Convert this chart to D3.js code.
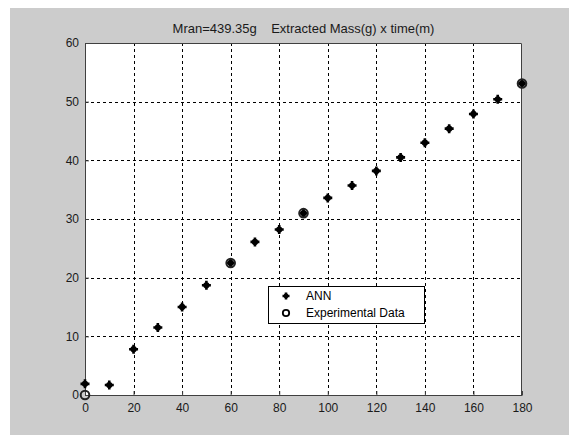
<!DOCTYPE html>
<html>
<head>
<meta charset="utf-8">
<script src="https://cdn.jsdelivr.net/npm/d3@7"></script>
<style>
  body { margin: 0; background: #fff; }
  text { font-family: "Liberation Sans", Arial, sans-serif; }
</style>
</head>
<body>
<svg id="chart" width="569" height="435"></svg>
<script>
// Extracted mass vs time: ANN prediction and experimental points
const annTime = [0, 10, 20, 30, 40, 50, 60, 70, 80, 90, 100, 110, 120, 130, 140, 150, 160, 170, 180];
const annMass = [1.9, 1.7, 7.8, 11.5, 15.0, 18.7, 22.5, 26.1, 28.2, 31.0, 33.6, 35.7, 38.2, 40.5, 43.0, 45.4, 47.9, 50.4, 53.1];
const expTime = [0, 60, 90, 180];
const expMass = [0, 22.5, 31.0, 53.1];
const xTicks = [0, 20, 40, 60, 80, 100, 120, 140, 160, 180];
const yTicks = [0, 10, 20, 30, 40, 50, 60];
const titleText = 'Mran=439.35g    Extracted Mass(g) x time(m)';
const legendLabels = ['ANN', 'Experimental Data'];

const svg = d3.select('#chart');
const box = { left: 85, right: 522, top: 43, bottom: 395 };

// figure background (MATLAB grey)
svg.append('rect')
  .attr('x', 10).attr('y', 8)
  .attr('width', 559).attr('height', 427)
  .attr('fill', '#cccccc');

const x = d3.scaleLinear().domain([0, 180]).range([box.left, box.right]);
const y = d3.scaleLinear().domain([0, 60]).range([box.bottom, box.top]);

// axes area
svg.append('rect')
  .attr('x', box.left).attr('y', box.top)
  .attr('width', box.right - box.left).attr('height', box.bottom - box.top)
  .attr('fill', '#fff');

// dashed grid
const grid = svg.append('g')
  .attr('stroke', '#000')
  .attr('stroke-width', 1)
  .attr('stroke-dasharray', '3 3')
  .attr('shape-rendering', 'crispEdges');
grid.selectAll('line.v')
  .data(xTicks.slice(1, -1))
  .join('line')
  .attr('class', 'v')
  .attr('x1', d => Math.round(x(d)) + 0.5).attr('x2', d => Math.round(x(d)) + 0.5)
  .attr('y1', box.top).attr('y2', box.bottom);
grid.selectAll('line.h')
  .data(yTicks.slice(1, -1))
  .join('line')
  .attr('class', 'h')
  .attr('x1', box.left).attr('x2', box.right)
  .attr('y1', d => Math.round(y(d)) + 0.5).attr('y2', d => Math.round(y(d)) + 0.5);

// axes with ticks pointing inward
const xAxis = svg.append('g')
  .attr('transform', `translate(0,${box.bottom})`)
  .call(d3.axisBottom(x).tickValues(xTicks).tickSizeInner(-4).tickSizeOuter(0).tickPadding(8));
const yAxis = svg.append('g')
  .attr('transform', `translate(${box.left},0)`)
  .call(d3.axisLeft(y).tickValues(yTicks).tickSizeInner(-4).tickSizeOuter(0).tickPadding(6));
[xAxis, yAxis].forEach(g => {
  g.select('.domain').attr('stroke', '#404040');
  g.selectAll('.tick line').attr('stroke', '#404040');
  g.selectAll('.tick text')
    .attr('fill', '#1a1a1a')
    .style('font-size', '12px')
    .style('font-family', '"Liberation Sans", Arial, sans-serif');
});

// box top / right
svg.append('path')
  .attr('d', `M${box.left},${box.top + 0.5}H${box.right - 0.5}V${box.bottom}`)
  .attr('fill', 'none')
  .attr('stroke', '#404040')
  .attr('stroke-width', 1);

// title
svg.append('text')
  .attr('x', (box.left + box.right) / 2)
  .attr('y', 33)
  .attr('text-anchor', 'middle')
  .attr('fill', '#1a1a1a')
  .style('font-size', '13px')
  .style('white-space', 'pre')
  .text(titleText);

// ANN marker: thick plus with solid centre
function annMarker(sel, r) {
  sel.append('path')
    .attr('d', `M${-r},0H${r}M0,${-r}V${r}`)
    .attr('stroke', '#000')
    .attr('stroke-width', 2.6)
    .attr('fill', 'none');
  sel.append('circle').attr('r', r * 0.7).attr('fill', '#000');
}

svg.append('g').selectAll('g')
  .data(annTime.map((t, i) => [t, annMass[i]]))
  .join('g')
  .attr('transform', d => `translate(${x(d[0])},${y(d[1])})`)
  .each(function () { annMarker(d3.select(this), 4.5); });

svg.append('g').selectAll('circle')
  .data(expTime.map((t, i) => [t, expMass[i]]))
  .join('circle')
  .attr('cx', d => x(d[0]))
  .attr('cy', d => y(d[1]))
  .attr('r', 4.3)
  .attr('fill', 'none')
  .attr('stroke', '#222')
  .attr('stroke-width', 2);

// legend
const lg = svg.append('g').attr('transform', 'translate(268,286)');
lg.append('rect')
  .attr('x', 0.5).attr('y', 0.5)
  .attr('width', 156).attr('height', 37)
  .attr('fill', '#fff')
  .attr('stroke', '#000')
  .attr('stroke-width', 1);
annMarker(lg.append('g').attr('transform', 'translate(18,10)'), 3.5);
lg.append('circle')
  .attr('cx', 18).attr('cy', 27)
  .attr('r', 3.2)
  .attr('fill', 'none')
  .attr('stroke', '#000')
  .attr('stroke-width', 1.8);
lg.selectAll('text.lbl')
  .data(legendLabels)
  .join('text')
  .attr('class', 'lbl')
  .attr('x', 38)
  .attr('y', (d, i) => 14 + i * 17)
  .attr('fill', '#000')
  .style('font-size', '12px')
  .text(d => d);
</script>
</body>
</html>
